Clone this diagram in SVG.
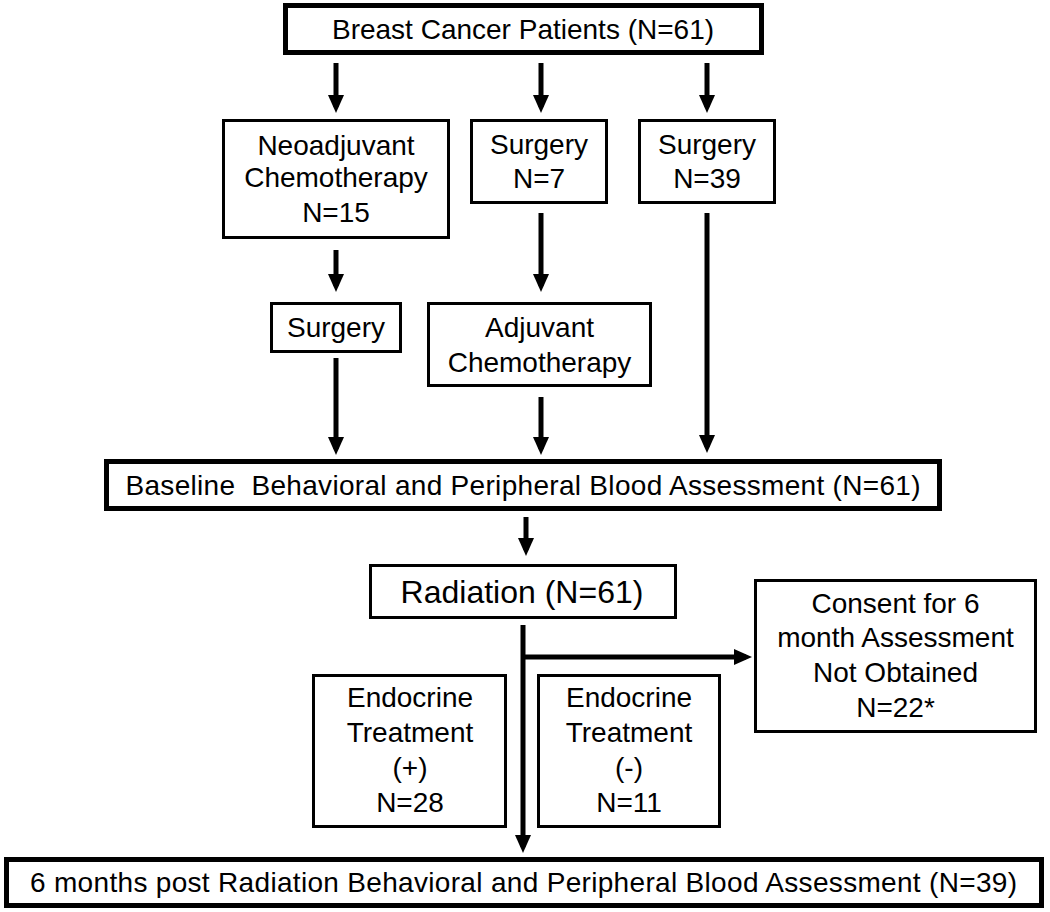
<svg xmlns="http://www.w3.org/2000/svg" width="1050" height="912" viewBox="0 0 1050 912">
<defs>
<style>
.box{fill:#fff;stroke:#000;stroke-width:3}
.thick{fill:#fff;stroke:#000;stroke-width:5}
.t{font-family:"Liberation Sans",Arial,sans-serif;font-size:28px;fill:#000;text-anchor:middle}
.big{font-size:32px}
.conn line{stroke:#000;stroke-width:5;marker-end:url(#ah)}
</style>
<marker id="ah" markerUnits="userSpaceOnUse" viewBox="0 0 18 16" markerWidth="18" markerHeight="16" refX="12" refY="8" orient="auto">
<path d="M0,0 L18,8 L0,16 z" fill="#000"/>
</marker>
</defs>
<rect width="1050" height="912" fill="#fff"/>
<g id="connectors" class="conn">
<line x1="336" y1="63" x2="336" y2="107"/>
<line x1="541" y1="63" x2="541" y2="107"/>
<line x1="707" y1="63" x2="707" y2="107"/>
<line x1="336" y1="250" x2="336" y2="286"/>
<line x1="541" y1="213" x2="541" y2="286"/>
<line x1="707" y1="213" x2="707" y2="447"/>
<line x1="336" y1="358" x2="336" y2="449"/>
<line x1="541" y1="397" x2="541" y2="449"/>
<line x1="526" y1="517" x2="526" y2="550"/>
<line x1="523" y1="625" x2="523" y2="847"/>
<line x1="521" y1="657" x2="746" y2="657"/>
</g>
<g id="patients">
<rect class="thick" x="285.5" y="5.5" width="476" height="47"/>
<text class="t" x="523" y="39">Breast Cancer Patients (N=61)</text>
</g>
<g id="neoadjuvant">
<rect class="box" x="223.5" y="120.5" width="225" height="117"/>
<text class="t" x="336" y="155">Neoadjuvant</text>
<text class="t" x="336" y="187">Chemotherapy</text>
<text class="t" x="336" y="222">N=15</text>
</g>
<g id="surgery7">
<rect class="box" x="471.5" y="120.5" width="135" height="82"/>
<text class="t" x="539" y="154">Surgery</text>
<text class="t" x="539" y="188">N=7</text>
</g>
<g id="surgery39">
<rect class="box" x="639.5" y="120.5" width="135" height="82"/>
<text class="t" x="707" y="154">Surgery</text>
<text class="t" x="707" y="188">N=39</text>
</g>
<g id="surgery">
<rect class="box" x="271.5" y="303.5" width="129" height="48"/>
<text class="t" x="336" y="337">Surgery</text>
</g>
<g id="adjuvant">
<rect class="box" x="428.5" y="303.5" width="222" height="82"/>
<text class="t" x="539.5" y="337">Adjuvant</text>
<text class="t" x="539.5" y="372">Chemotherapy</text>
</g>
<g id="baseline">
<rect class="thick" x="106.5" y="461.5" width="833" height="47"/>
<text class="t" x="523" y="495" textLength="795" lengthAdjust="spacing" xml:space="preserve">Baseline  Behavioral and Peripheral Blood Assessment (N=61)</text>
</g>
<g id="radiation">
<rect class="box" x="370.5" y="565.5" width="305" height="52"/>
<text class="t big" x="522" y="603">Radiation (N=61)</text>
</g>
<g id="consent">
<rect class="box" x="755.5" y="580.5" width="280" height="151"/>
<text class="t" x="895.5" y="613">Consent for 6</text>
<text class="t" x="895.5" y="647">month Assessment</text>
<text class="t" x="895.5" y="682">Not Obtained</text>
<text class="t" x="895.5" y="717">N=22*</text>
</g>
<g id="endocrine-pos">
<rect class="box" x="313.5" y="675.5" width="192" height="151"/>
<text class="t" x="410" y="707">Endocrine</text>
<text class="t" x="410" y="742">Treatment</text>
<text class="t" x="410" y="777">(+)</text>
<text class="t" x="410" y="812">N=28</text>
</g>
<g id="endocrine-neg">
<rect class="box" x="538.5" y="675.5" width="181" height="151"/>
<text class="t" x="629" y="707">Endocrine</text>
<text class="t" x="629" y="742">Treatment</text>
<text class="t" x="629" y="777">(-)</text>
<text class="t" x="629" y="812">N=11</text>
</g>
<g id="sixmonths">
<rect class="thick" x="6.5" y="859.5" width="1035" height="46"/>
<text class="t" x="523.5" y="892" textLength="987" lengthAdjust="spacing">6 months post Radiation Behavioral and Peripheral Blood Assessment (N=39)</text>
</g>
</svg>
